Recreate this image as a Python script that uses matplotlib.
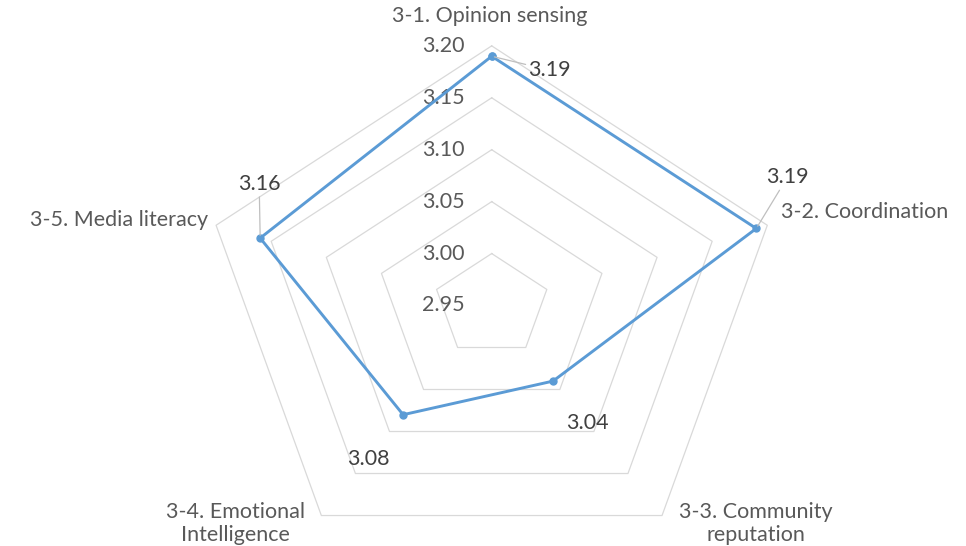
import numpy as np
import matplotlib
matplotlib.use("Agg")
from matplotlib import pyplot as plt

# data
categories = ["3-1. Opinion sensing", "3-2. Coordination", "3-3. Community\nreputation",
              "3-4. Emotional\nIntelligence", "3-5. Media literacy"]
values = [3.19, 3.19, 3.04, 3.08, 3.16]
value_labels = ["3.19", "3.19", "3.04", "3.08", "3.16"]
ring_levels = [2.95, 3.00, 3.05, 3.10, 3.15, 3.20]
ring_labels = ["2.95", "3.00", "3.05", "3.10", "3.15", "3.20"]

plt.rcParams['font.family'] = ['Lato', 'DejaVu Sans']
fs = 15.5

fig = plt.figure(figsize=(9.66, 5.46), dpi=100)
ax = fig.add_axes([0.209, -0.035, 0.600, 0.951], projection='polar')
ax.set_aspect('auto')
ax.set_theta_offset(np.pi / 2)
ax.set_theta_direction(-1)
ax.set_ylim(2.95, 3.20)
ax.grid(False)
ax.set_xticks([])
ax.set_yticks([])
ax.spines['polar'].set_visible(False)
ax.patch.set_visible(False)

n = len(categories)
theta = np.arange(n) * 2 * np.pi / n
theta_closed = np.append(theta, theta[0])

# pentagon grid
for lv in ring_levels[1:]:
    ax.plot(theta_closed, [lv] * (n + 1), color='#D9D9D9', lw=0.9, clip_on=False, zorder=1)

# ring labels along the vertical axis
for lv, lab in zip(ring_levels, ring_labels):
    ax.annotate(lab, xy=(0, lv), xytext=(-27, 0), textcoords='offset pixels',
                ha='right', va='center', fontsize=fs, color='#595959', annotation_clip=False)

# data series
vals_closed = values + values[:1]
ax.plot(theta_closed, vals_closed, color='#5B9BD5', lw=2.1, marker='o', markersize=5,
        clip_on=False, zorder=3)

# data labels
lab_offsets = [(58, -14), (31, 51), (34, -42), (-35, -44), (-1, 54)]
leaders = [True, True, False, False, True]
for t, v, lab, off, ld in zip(theta, values, value_labels, lab_offsets, leaders):
    kw = {}
    if ld:
        kw['arrowprops'] = dict(arrowstyle='-', color='#BFBFBF', lw=0.9, shrinkA=0, shrinkB=2)
    ax.annotate(lab, xy=(t, v), xytext=off, textcoords='offset pixels',
                ha='center', va='center', fontsize=fs, color='#404040',
                annotation_clip=False, **kw)

# category labels
cat_offsets = [(-2, 30), (14, 13), (94, -8), (-86, -8), (-8, 5)]
cat_ha = ['center', 'left', 'center', 'center', 'right']
for t, lab, off, ha in zip(theta, categories, cat_offsets, cat_ha):
    ax.annotate(lab, xy=(t, 3.20), xytext=off, textcoords='offset pixels',
                ha=ha, va='center', multialignment='center', fontsize=fs,
                color='#595959', linespacing=1.15, annotation_clip=False)

plt.savefig("out.png", dpi=100)
